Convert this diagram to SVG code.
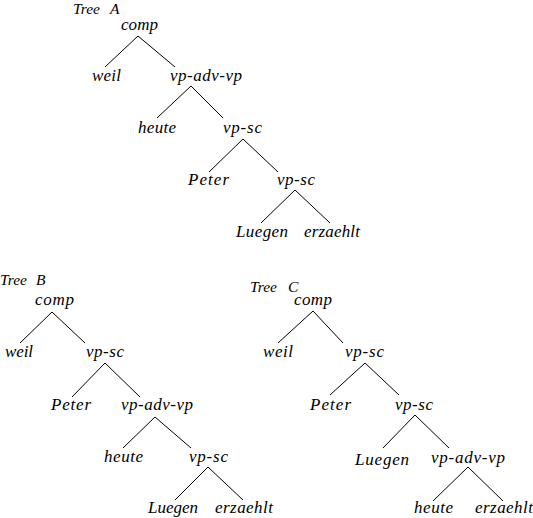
<svg xmlns="http://www.w3.org/2000/svg" width="533" height="518" viewBox="0 0 533 518">
<style>
text{font-family:"Liberation Serif","Times New Roman",serif;font-style:italic;font-size:17px;fill:#000}
.t{font-size:15.5px}
.e line{stroke:#000;stroke-width:1}
</style>
<rect width="533" height="518" fill="#fff"/>
<g id="treeA">
<text id="A-title" class="t" y="14"><tspan x="73">Tree</tspan><tspan x="110">A</tspan></text>
<g id="A-comp"><text x="121" y="30" textLength="37">comp</text></g>
<g id="A-weil"><text x="92" y="81" textLength="29">weil</text></g>
<g id="A-vpadvvp"><text x="170" y="81" textLength="72">vp-adv-vp</text></g>
<g id="A-heute"><text x="138" y="133" textLength="38">heute</text></g>
<g id="A-vpsc1"><text x="223" y="133" textLength="39">vp-sc</text></g>
<g id="A-Peter"><text x="188" y="185" textLength="41">Peter</text></g>
<g id="A-vpsc2"><text x="277" y="185" textLength="38">vp-sc</text></g>
<g id="A-Luegen"><text x="236" y="237" textLength="52">Luegen</text></g>
<g id="A-erzaehlt"><text x="304" y="237" textLength="56">erzaehlt</text></g>
<g class="e" id="A-edges">
<line x1="138" y1="36" x2="105" y2="67"/><line x1="138" y1="36" x2="175" y2="67"/>
<line x1="191" y1="86" x2="157" y2="118"/><line x1="191" y1="86" x2="223" y2="118"/>
<line x1="243" y1="139" x2="209" y2="172"/><line x1="243" y1="139" x2="278" y2="172"/>
<line x1="295" y1="190" x2="261" y2="223"/><line x1="295" y1="190" x2="330" y2="223"/>
</g>
</g>
<g id="treeB">
<text id="B-title" class="t" y="285"><tspan x="0">Tree</tspan><tspan x="36">B</tspan></text>
<g id="B-comp"><text x="35" y="305" textLength="39">comp</text></g>
<g id="B-weil"><text x="5" y="357" textLength="28">weil</text></g>
<g id="B-vpsc1"><text x="86" y="357" textLength="38">vp-sc</text></g>
<g id="B-Peter"><text x="51" y="410" textLength="40">Peter</text></g>
<g id="B-vpadvvp"><text x="121" y="410" textLength="72">vp-adv-vp</text></g>
<g id="B-heute"><text x="104" y="462" textLength="39">heute</text></g>
<g id="B-vpsc2"><text x="189" y="462" textLength="39">vp-sc</text></g>
<g id="B-Luegen"><text x="148" y="513" textLength="50">Luegen</text></g>
<g id="B-erzaehlt"><text x="215" y="513" textLength="58">erzaehlt</text></g>
<g class="e" id="B-edges">
<line x1="52" y1="312" x2="20" y2="343"/><line x1="52" y1="312" x2="85" y2="343"/>
<line x1="105" y1="363" x2="72" y2="397"/><line x1="105" y1="363" x2="140" y2="397"/>
<line x1="155" y1="417" x2="123" y2="448"/><line x1="155" y1="417" x2="191" y2="448"/>
<line x1="208" y1="467" x2="175" y2="500"/><line x1="208" y1="467" x2="243" y2="500"/>
</g>
</g>
<g id="treeC">
<text id="C-title" class="t" y="292"><tspan x="250">Tree</tspan><tspan x="288">C</tspan></text>
<g id="C-comp"><text x="294" y="305" textLength="38">comp</text></g>
<g id="C-weil"><text x="263" y="357" textLength="30">weil</text></g>
<g id="C-vpsc1"><text x="345" y="357" textLength="39">vp-sc</text></g>
<g id="C-Peter"><text x="310" y="410" textLength="41">Peter</text></g>
<g id="C-vpsc2"><text x="395" y="410" textLength="38">vp-sc</text></g>
<g id="C-Luegen"><text x="355" y="465" textLength="54">Luegen</text></g>
<g id="C-vpadvvp"><text x="431" y="463" textLength="74">vp-adv-vp</text></g>
<g id="C-heute"><text x="414" y="513" textLength="39">heute</text></g>
<g id="C-erzaehlt"><text x="475" y="513" textLength="58">erzaehlt</text></g>
<g class="e" id="C-edges">
<line x1="313" y1="311" x2="278" y2="343"/><line x1="313" y1="311" x2="343" y2="343"/>
<line x1="365" y1="363" x2="330" y2="395"/><line x1="365" y1="363" x2="399" y2="395"/>
<line x1="415" y1="415" x2="383" y2="448"/><line x1="415" y1="415" x2="449" y2="448"/>
<line x1="468" y1="467" x2="433" y2="501"/><line x1="468" y1="467" x2="503" y2="501"/>
</g>
</g>
</svg>
